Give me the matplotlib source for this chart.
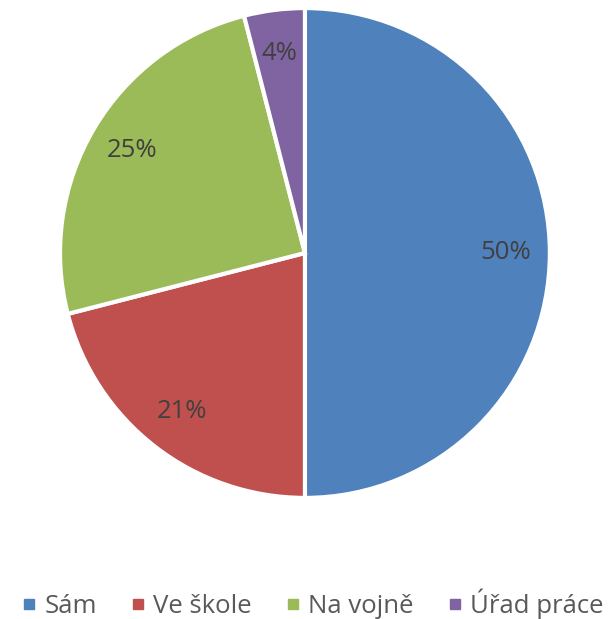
import matplotlib
matplotlib.use("Agg")
import matplotlib.pyplot as plt
from matplotlib.lines import Line2D

# data
labels = ["Sám", "Ve škole", "Na vojně", "Úřad práce"]
values = [50, 21, 25, 4]
colors = ["#4F81BD", "#C0504D", "#9BBB59", "#8064A2"]

plt.rcParams["font.family"] = ["Open Sans", "DejaVu Sans"]

fig = plt.figure(figsize=(6.10, 6.19), dpi=100)
ax = fig.add_axes([0.0984, 0.1955, 0.803, 0.7916])

wedges, texts, autotexts = ax.pie(
    values, colors=colors, startangle=90, counterclock=False,
    autopct="%1.0f%%", pctdistance=0.82,
    wedgeprops=dict(edgecolor="white", linewidth=3),
    textprops=dict(color="#404040", fontsize=18.5),
)
ax.set_xlim(-1, 1)
ax.set_ylim(-1, 1)
ax.set_aspect("equal")

# legend along the bottom
handles = [Line2D([], [], marker="s", linestyle="", markersize=7.5,
                  markerfacecolor=c, markeredgecolor=c) for c in colors]
fig.legend(handles, labels, loc="center", bbox_to_anchor=(0.508, 0.024),
           ncol=4, frameon=False, fontsize=18.5, labelcolor="#595959",
           handletextpad=0.1, columnspacing=1.1, handlelength=1.0)

fig.savefig("out.png", dpi=100)
